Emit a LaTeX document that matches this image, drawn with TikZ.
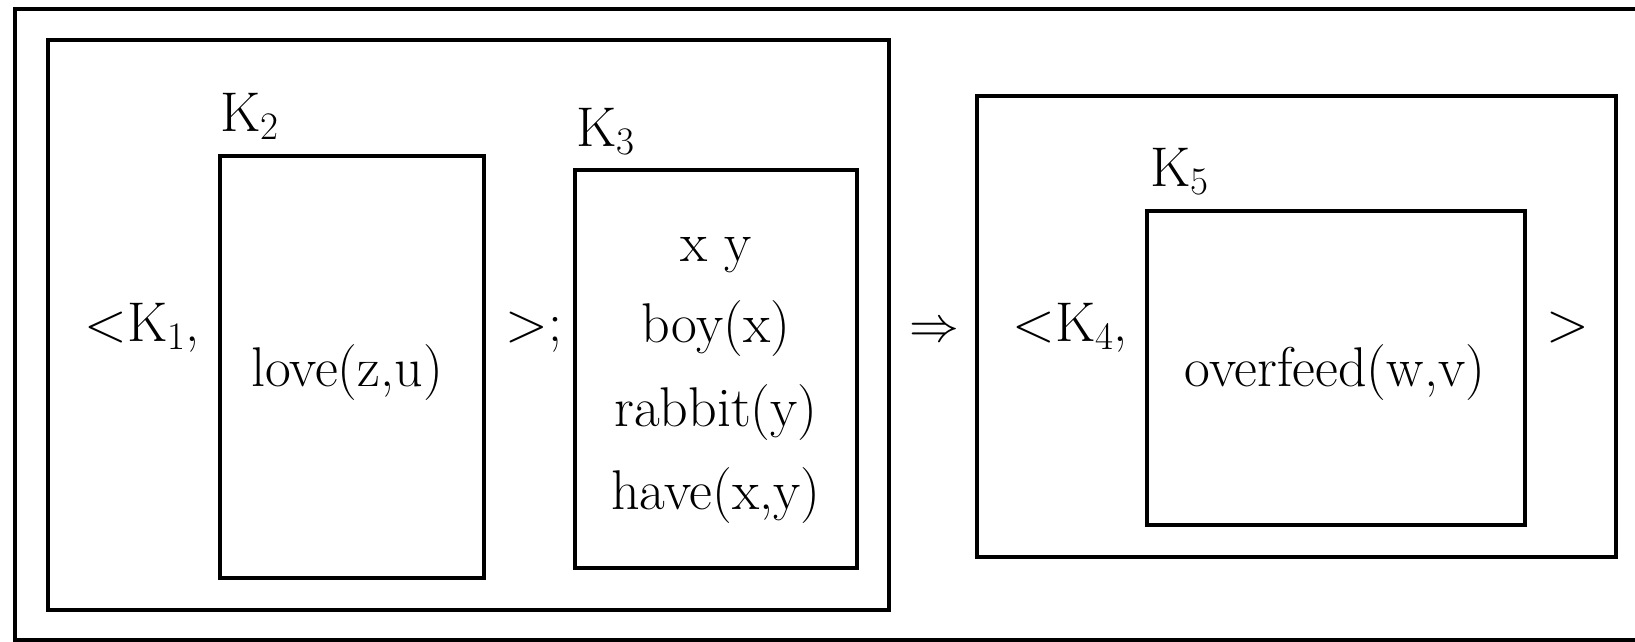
\documentclass[tikz,border=0pt]{standalone}
\usetikzlibrary{fit}
\newcommand\Ksub[1]{K\raisebox{-4pt}{\fontsize{19.5}{20}\selectfont #1}}
\begin{document}
\begin{tikzpicture}[x=0.5pt,y=-0.5pt,
  frame/.style={draw, line width=1.6pt, inner sep=0pt},
  txt/.style={inner sep=0pt, font=\fontsize{28}{33}\selectfont}]
\useasboundingbox (0,0) rectangle (1635,642);
% outer frame (cut off at right and bottom)
\draw[line width=1.6pt] (1650,9) -- (15,9) -- (15,640) -- (1650,640);
% left big box
\node[frame, fit={(48,40) (889,610)}] (left) {};
\node[frame, fit={(220,156) (484,578)}] (k2box) {};
\node[frame, fit={(575,170) (857,568)}] (k3box) {};
\node[txt, anchor=base west] (k2lab) at (220,132) {\Ksub{2}};
\node[txt, anchor=base west] (k3lab) at (576,147) {\Ksub{3}};
\node[txt, anchor=base west] (open1) at (84,341) {<\Ksub{1},};
\node[txt, anchor=base] (love) at (347,386) {love(z,u)};
\node[txt, anchor=base west] (close1) at (505,341) {>;};
\node[txt, anchor=base] (xy) at (716,262) {x y};
\node[txt, anchor=base] (boy) at (716,343) {boy(x)};
\node[txt, anchor=base] (rabbit) at (716,426) {rabbit(y)};
\node[txt, anchor=base] (have) at (716,509) {have(x,y)};
% arrow
\node[txt, anchor=base west] (impl) at (909,341) {$\Rightarrow$};
% right big box
\node[frame, fit={(977,96) (1616,557)}] (right) {};
\node[frame, fit={(1147,211) (1525,525)}] (k5box) {};
\node[txt, anchor=base west] (k5lab) at (1150,187) {\Ksub{5}};
\node[txt, anchor=base west] (open2) at (1012,341) {<\Ksub{4},};
\node[txt, anchor=base] (over) at (1335,386) {overfeed(w,v)};
\node[txt, anchor=base west] (close2) at (1546,341) {>};
\end{tikzpicture}
\end{document}
